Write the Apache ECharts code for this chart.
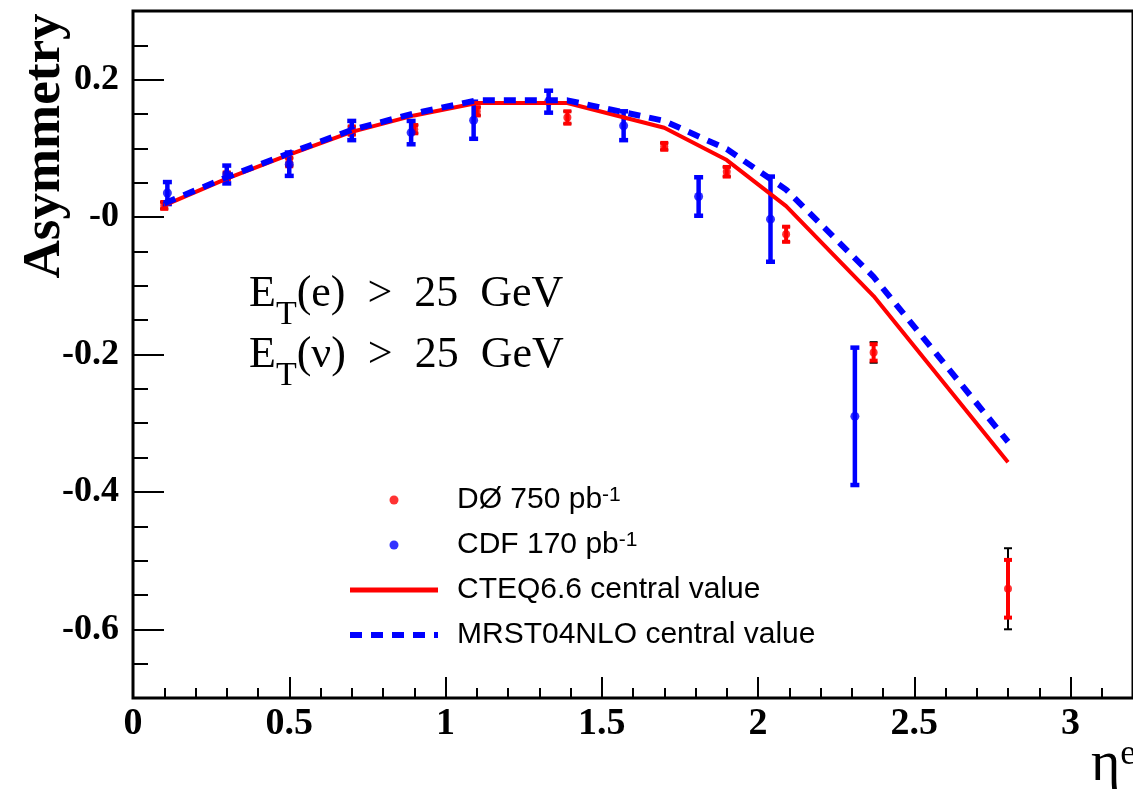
<!DOCTYPE html>
<html><head><meta charset="utf-8">
<script src="https://cdn.jsdelivr.net/npm/echarts@6/dist/echarts.min.js"></script>
<style>html,body{margin:0;padding:0;background:#fff}#c{width:1133px;height:789px}</style>
</head><body><div id="c"></div>
<script>
// ---- tick labels ----
const xMajorTicks = [0, 0.5, 1, 1.5, 2, 2.5, 3];
const yMajorTicks = [-0.6, -0.4, -0.2, 0, 0.2];

// ---- theory curves ----
const theoryEta = [0.1, 0.3, 0.5, 0.7, 0.9, 1.1, 1.39, 1.7, 1.9, 2.09, 2.37, 2.8];
const cteqAsym  = [0.017, 0.056, 0.091, 0.124, 0.148, 0.166, 0.166, 0.130, 0.083, 0.016, -0.115, -0.357];
const mrstAsym  = [0.020, 0.058, 0.093, 0.127, 0.151, 0.170, 0.170, 0.140, 0.099, 0.040, -0.087, -0.327];

// ---- DØ 750 pb-1 ----
const d0Eta     = [0.1, 0.3, 0.5, 0.7, 0.9, 1.1, 1.39, 1.7, 1.9, 2.09, 2.37, 2.8];
const d0Asym    = [0.017, 0.060, 0.080, 0.126, 0.128, 0.154, 0.145, 0.103, 0.066, -0.025, -0.197, -0.541];
const d0StatErr = [0.005, 0.005, 0.006, 0.006, 0.006, 0.006, 0.009, 0.005, 0.007, 0.011, 0.012, 0.042];
const d0TotErr  = [0.005, 0.005, 0.006, 0.006, 0.006, 0.006, 0.009, 0.005, 0.007, 0.011, 0.015, 0.059];

// ---- CDF 170 pb-1 ----
const cdfEta  = [0.11, 0.30, 0.50, 0.70, 0.89, 1.09, 1.33, 1.57, 1.81, 2.04, 2.31];
const cdfAsym = [0.035, 0.062, 0.077, 0.126, 0.123, 0.141, 0.168, 0.133, 0.030, -0.003, -0.290];
const cdfErr  = [0.016, 0.013, 0.017, 0.014, 0.017, 0.027, 0.016, 0.021, 0.028, 0.062, 0.100];

const RED = '#ff0000', BLUE = '#0000ff';

function errorBars(xs, ys, errs, color, lw, capW, z) {
  return {
    type: 'custom', silent: true, z: z,
    data: xs.map((x, i) => [x, ys[i] - errs[i], ys[i] + errs[i]]),
    encode: { x: 0, y: [1, 2] },
    renderItem: function (params, api) {
      const x = api.value(0);
      const lo = api.coord([x, api.value(1)]);
      const hi = api.coord([x, api.value(2)]);
      const c = capW / 2;
      const st = { stroke: color, lineWidth: lw };
      return { type: 'group', children: [
        { type: 'line', shape: { x1: lo[0], y1: lo[1], x2: hi[0], y2: hi[1] }, style: st },
        { type: 'line', shape: { x1: lo[0] - c, y1: lo[1], x2: lo[0] + c, y2: lo[1] }, style: st },
        { type: 'line', shape: { x1: hi[0] - c, y1: hi[1], x2: hi[0] + c, y2: hi[1] }, style: st }
      ]};
    }
  };
}

const zip = (a, b) => a.map((v, i) => [v, b[i]]);
const serif = '"Liberation Serif", "Times New Roman", serif';
const sans = '"Liberation Sans", Arial, sans-serif';

const annoRich = {
  m: { fontFamily: serif, fontSize: 44, lineHeight: 46, color: '#000', verticalAlign: 'top' },
  s: { fontFamily: serif, fontSize: 34, lineHeight: 34, color: '#000', verticalAlign: 'top', padding: [26, 0, 0, 0] }
};

const chart = echarts.init(document.getElementById('c'), null, { renderer: 'canvas' });
chart.setOption({
  animation: false,
  backgroundColor: '#fff',
  grid: { left: 133, top: 11, right: -4, bottom: 91, show: true, borderColor: '#000', borderWidth: 3, backgroundColor: 'transparent' },
  xAxis: [
    { type: 'value', min: 0, max: 3.2, position: 'bottom',
      axisLine: { show: false, onZero: false }, splitLine: { show: false },
      axisTick: { show: true, inside: true, length: 21, customValues: xMajorTicks, lineStyle: { color: '#000', width: 2 } },
      axisLabel: { customValues: xMajorTicks, margin: 7, color: '#000', fontFamily: serif, fontWeight: 'bold', fontSize: 38,
        formatter: v => String(v) } },
    { type: 'value', min: 0, max: 3.2, interval: 0.1, position: 'bottom',
      axisLine: { show: false, onZero: false }, splitLine: { show: false }, axisLabel: { show: false },
      axisTick: { show: true, inside: true, length: 10, lineStyle: { color: '#000', width: 2 } } }
  ],
  yAxis: [
    { type: 'value', min: -0.7, max: 0.3, position: 'left',
      axisLine: { show: false, onZero: false }, splitLine: { show: false },
      axisTick: { show: true, inside: true, length: 31, customValues: yMajorTicks, lineStyle: { color: '#000', width: 2 } },
      axisLabel: { customValues: yMajorTicks, margin: 14, color: '#000', fontFamily: serif, fontWeight: 'bold', fontSize: 36,
        formatter: v => (Math.abs(v) < 1e-9 ? '-0' : v.toFixed(1)) } },
    { type: 'value', min: -0.7, max: 0.3, interval: 0.05, position: 'left',
      axisLine: { show: false, onZero: false }, splitLine: { show: false }, axisLabel: { show: false },
      axisTick: { show: true, inside: true, length: 15, lineStyle: { color: '#000', width: 2 } } }
  ],
  legend: {
    orient: 'vertical', left: 347, top: 485, padding: 0, itemWidth: 88, itemHeight: 9, itemGap: 15,
    selectedMode: false,
    textStyle: { fontFamily: sans, fontSize: 30, lineHeight: 30, color: '#000', padding: [0, 0, 0, 14],
      rich: { sup: { fontFamily: sans, fontSize: 21, lineHeight: 21, color: '#000', verticalAlign: 'top', padding: [0, 0, 0, 0] } } },
    formatter: name => name.replace(/-1$/, '{sup|-1}'),
    data: [
      { name: 'DØ 750 pb-1', icon: 'circle' },
      { name: 'CDF 170 pb-1', icon: 'circle' },
      { name: 'CTEQ6.6 central value', itemStyle: { opacity: 0 }, lineStyle: { color: RED, width: 5, type: 'solid' } },
      { name: 'MRST04NLO central value', itemStyle: { opacity: 0 }, lineStyle: { color: BLUE, width: 6, type: [12, 9] } }
    ]
  },
  series: [
    errorBars(d0Eta, d0Asym, d0TotErr, '#000', 2, 8, 2),
    errorBars(d0Eta, d0Asym, d0StatErr, RED, 4, 8, 3),
    { name: 'DØ 750 pb-1', type: 'scatter', z: 4, symbol: 'circle', symbolSize: 8,
      itemStyle: { color: RED }, data: zip(d0Eta, d0Asym) },
    errorBars(cdfEta, cdfAsym, cdfErr, BLUE, 4.5, 9, 5),
    { name: 'CDF 170 pb-1', type: 'scatter', z: 6, symbol: 'circle', symbolSize: 9,
      itemStyle: { color: BLUE }, data: zip(cdfEta, cdfAsym) },
    { name: 'CTEQ6.6 central value', type: 'line', z: 7, symbol: 'none', smooth: false,
      itemStyle: { color: RED }, lineStyle: { color: RED, width: 4 }, data: zip(theoryEta, cteqAsym) },
    { name: 'MRST04NLO central value', type: 'line', z: 8, symbol: 'none', smooth: false,
      itemStyle: { color: BLUE }, lineStyle: { color: BLUE, width: 6, type: [12, 9] }, data: zip(theoryEta, mrstAsym) }
  ],
  graphic: [
    { type: 'text', x: 45, y: 146, rotation: Math.PI / 2, z: 10,
      style: { text: 'Asymmetry', fontFamily: serif, fontWeight: 'bold', fontSize: 53, fill: '#000',
        textAlign: 'center', textVerticalAlign: 'middle', align: 'center', verticalAlign: 'middle' } },
    { type: 'text', x: 249, y: 295, z: 10,
      style: { text: '{m|E}{s|T}{m|(e)\u2002>\u200225\u2002GeV}', textVerticalAlign: 'middle', verticalAlign: 'middle', rich: annoRich } },
    { type: 'text', x: 249, y: 356, z: 10,
      style: { text: '{m|E}{s|T}{m|(\u03bd)\u2002>\u200225\u2002GeV}', textVerticalAlign: 'middle', verticalAlign: 'middle', rich: annoRich } },
    { type: 'text', x: 1091, y: 765, z: 10,
      style: { text: '{m|\u03b7}{s|e}', textVerticalAlign: 'middle', verticalAlign: 'middle',
        rich: { m: { fontFamily: serif, fontSize: 56, lineHeight: 56, color: '#000' },
                s: { fontFamily: serif, fontSize: 36, lineHeight: 36, color: '#000', verticalAlign: 'top' } } } }
  ]
});
</script></body></html>
